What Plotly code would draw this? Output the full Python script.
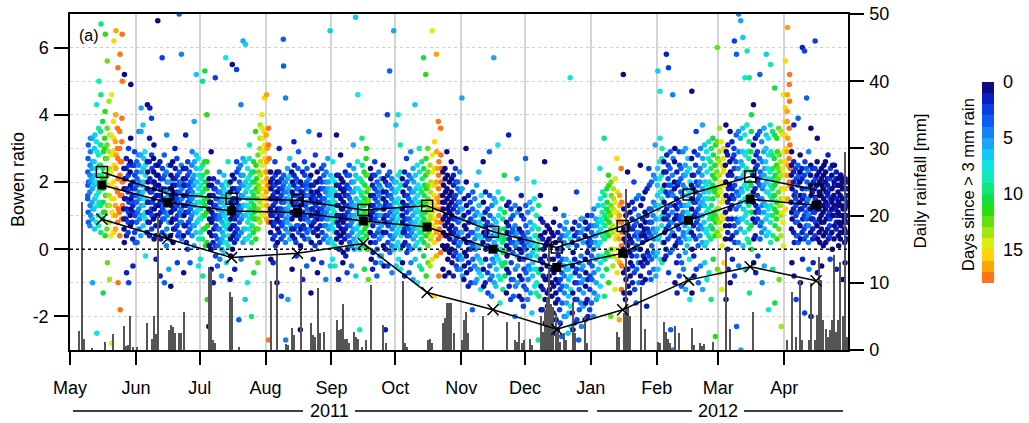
import pandas as pd
import plotly.graph_objects as go

# ---------------- data ----------------
start_date = "2011-05-01"
days_since_at_start = 3
rain_threshold = 3.0

# daily rainfall [mm], one value per day
rain_may = [0, 0, 0, 0, 2.9, 22.0, 1.6, 0, 0, 0, 0.3, 0, 0, 0, 0, 0, 1.2, 0, 0, 0, 2.4, 0, 0, 0, 0, 3.6, 0.6, 0.8, 5.0, 0.4, 0]
rain_jun = [0.4, 0, 0, 0, 0, 4.0, 0, 1.6, 5.0, 2.4, 20.0, 0, 0, 0, 0, 3.0, 3.7, 3.4, 2.6, 0, 2.5, 2.6, 5.7, 0, 0, 0, 0, 0, 0, 0]
rain_jul = [0, 0, 0, 0, 12.4, 11.9, 1.5, 1.0, 0, 0, 0, 0, 0, 0, 8.7, 7.9, 0, 0, 0.5, 0, 0, 0, 0, 0, 0, 0, 0, 0, 0, 0, 0]
rain_aug = [0, 0, 10.2, 0, 0, 15.1, 0, 0, 0, 0.9, 0.7, 0, 3.3, 2.2, 0, 0, 12.0, 0, 0, 0, 0, 4.0, 2.2, 2.0, 9.2, 2.5, 0, 2.7, 0, 0, 0]
rain_sep = [0, 0, 4.5, 3.0, 3.2, 6.9, 1.7, 1.6, 1.0, 0, 2.7, 2.0, 1.6, 0, 0.5, 0, 1.5, 0, 9.7, 0, 0, 0, 0, 0, 3.7, 1.0, 0, 0, 0, 0]
rain_oct = [0, 0, 0, 10.2, 1.0, 0.5, 0, 0, 0, 0, 0, 0, 0, 0, 0, 1.5, 1.7, 1.0, 0, 0, 0, 0, 4.0, 4.7, 7.0, 7.0, 7.0, 2.5, 0, 0, 0]
rain_nov = [1.5, 4.5, 5.7, 2.5, 0, 0, 0, 0, 0, 0, 5.0, 0, 0, 0, 0, 0, 0, 0, 0, 0, 0, 4.2, 0, 0, 0, 1.5, 1.2, 4.2, 1.0, 1.5]
rain_dec = [0, 0, 1.6, 0.7, 0, 0, 0, 5.0, 2.7, 6.0, 7.9, 15.4, 6.9, 6.4, 5.5, 3.0, 1.2, 0, 2.5, 1.5, 0, 0, 7.2, 2.5, 0, 0, 0, 0, 5.0, 1.0, 0]
rain_jan = [0, 0, 0, 0, 0, 0, 0, 0, 0, 0, 0, 0, 2.7, 2.0, 0, 5.5, 24.0, 6.4, 5.0, 0, 0, 0, 0, 9.4, 0, 3.2, 0, 0, 0, 0, 0]
rain_feb = [1.2, 1.0, 0, 4.2, 2.7, 1.7, 1.0, 0, 3.5, 0, 2.5, 0, 0, 0, 0, 0, 3.3, 0.7, 0, 0, 1.0, 0.6, 0.9, 0, 0, 0, 1.2, 0, 0]
rain_mar = [0, 0, 0, 15.0, 0, 3.2, 0, 0, 0, 0, 0, 0, 0, 0, 0, 0, 5.7, 0, 0, 0, 0, 0, 0, 0, 0, 0, 0, 0, 0, 0, 0]
rain_apr = [0, 1.5, 0, 8.7, 0, 2.0, 0, 10.4, 1.5, 0, 0, 1.5, 9.9, 0, 1.5, 5.2, 13.9, 10.4, 4.5, 3.2, 2.0, 3.0, 4.5, 14.1, 2.7, 4.5, 13.1, 5.0, 29.5, 2.0]

# daytime Bowen ratio values, one list per day
bowen_may = [[], [], [], [], [], [], [], [],
    [1.5, 2.3, 1.9, 2.7, 1.1, 3.1, 0.8, 2.0, 1.6], [1.7, 0.7, 2.5, 1.3, 2.0, 2.9, 3.3, 1.0, 2.2],
    [2.1, 1.4, 3.3, 0.9, 1.8, -1.0, 2.6, 1.2, 2.4], [1.2, 2.6, 1.9, 3.0, 0.6, 2.2, 1.5, 3.4, 2.0],
    [2.4, 1.6, 0.8, 4.3, 2.0, -2.5, 2.9, 1.3, 3.2], [1.0, 2.8, 3.6, 1.7, 2.2, 5.0, 1.4, 2.5, 0.7],
    [2.5, 1.3, 3.1, 0.5, 4.6, 6.7, 1.9, 2.2, 3.5], [1.8, 3.8, 0.9, 2.4, 1.4, -1.3, 2.9, 1.1, 2.1],
    [3.3, 1.1, 2.1, 4.1, 0.4, 6.4, 2.7, 1.6, 3.0], [2.7, 0.6, 1.6, 3.6, 5.6, -0.4, 2.2, 1.3, 3.1],
    [1.9, 4.4, 0.8, 2.9, 1.3, -0.9, 2.4, 3.4, 1.6], [0.4, 2.3, 3.4, 1.5, 4.6, -2.8, 2.8, 1.1, 1.9],
    [2.9, 1.0, 3.8, 0.5, 2.0, 6.2, 1.5, 2.5, 3.3], [1.3, 3.2, 0.6, 4.0, 2.4, 6.5, 1.8, 2.8, 1.0],
    [3.6, 1.7, 0.8, 2.7, 5.4, -1.0, 2.1, 1.2, 3.0], [1.1, 3.0, 0.4, 2.2, 5.8, -1.8, 1.6, 2.6, 3.5],
    [2.6, 0.9, 3.9, 1.6, 6.4, 5.0, 2.0, 1.3, 3.2], [1.2, 2.4, 0.6, 1.8, 0.2, 5.2, 1.5, 2.1, 0.9],
    [0.9, 2.1, 1.5, 2.7, 0.4, -0.7, 1.2, 1.8, 2.4], [1.7, 0.5, 2.2, 1.1, 3.0, -1.0, 1.4, 2.5, 0.8],
    [2.3, 1.0, 0.7, 1.9, 3.3, 4.9, 1.5, 1.2, 2.6], [0.8, 1.6, 2.5, 0.3, 1.3, -0.5, 2.0, 1.1, 1.8],
    [1.4, 2.9, 0.5, 2.2, 1.0, 1.8, 1.6, 0.2, 2.5]]
bowen_jun = [
    [1.4, 0.8, 2.6, 1.9, 0.2, 2.1, 1.1, 1.6, 2.3], [2.5, 1.2, 3.5, 0.6, 1.7, 1.5, 2.0, 0.9, 2.8],
    [0.4, 2.8, 1.6, 4.2, 1.0, 2.3, 1.3, 1.9, 3.5], [1.7, 3.7, 0.7, 2.4, 1.3, 2.0, 1.0, 2.7, 1.5],
    [2.9, 1.1, 0.9, 2.2, -0.2, 1.5, 1.8, 0.5, 2.5], [0.5, 1.8, 4.3, 1.4, 2.3, 1.1, 2.0, 0.8, 2.6],
    [2.6, 0.8, 3.3, 1.4, 4.2, 2.1, 1.1, 1.7, 0.4], [1.2, 3.9, 0.6, 1.7, 2.4, 1.0, 2.0, 1.4, 2.8],
    [0.9, 2.7, 1.5, 3.1, 0.3, 2.0, 1.2, 1.8, 2.3], [1.9, 0.7, 2.5, -0.3, 1.3, 1.6, 1.0, 2.2, 0.4],
    [6.8, 1.0, 2.2, 0.4, 1.6, 1.3, 1.9, 0.7, 2.5], [2.6, 1.4, -0.8, 0.8, 1.8, 2.1, 1.1, 0.3, 1.6],
    [1.5, 5.7, 0.5, 2.4, 1.2, 1.8, 0.9, 2.1, 1.4], [0.9, 2.8, -1.0, 1.5, 2.2, 1.1, 1.8, 0.4, 1.3],
    [2.3, 0.1, 1.7, 3.4, 0.6, 1.3, 2.0, 1.0, 1.5], [1.6, 2.5, 0.8, -0.6, 1.4, 2.0, 1.1, 0.3, 1.8],
    [0.4, 1.8, -1.1, 2.2, 1.1, 1.3, 0.8, 1.6, 2.5], [2.6, 0.9, 1.5, 0.2, 2.1, 1.7, 1.2, 0.6, 1.9],
    [1.2, 3.0, 0.6, 1.9, 2.4, 1.4, 0.9, 1.6, 2.1], [2.7, 0.7, 1.3, -0.4, 2.2, 1.0, 1.7, 0.4, 1.5],
    [0.5, 7.0, 1.9, 1.4, 2.3, 1.7, 1.1, 0.8, 2.0], [1.2, 2.5, 5.8, 0.3, 0.8, 2.0, 1.5, 1.8, 1.0],
    [2.1, 0.4, 1.3, -0.7, 1.6, 1.0, 1.9, 0.7, 2.4], [1.9, 0.7, 3.4, 1.1, 2.4, 1.3, 1.6, 0.2, 2.1],
    [0.0, 1.7, 2.2, 0.5, 1.4, 1.1, 1.9, 0.8, 2.6], [2.3, 1.5, 0.6, -0.4, 1.8, 1.2, 0.9, 2.0, 1.4],
    [1.0, 2.5, 0.4, 2.9, 1.7, 1.3, 0.7, 2.1, 1.5], [1.9, 0.1, 3.8, 1.3, 0.7, 2.6, 1.1, 1.6, 2.2],
    [0.5, 2.4, 5.2, 1.6, 1.1, 2.0, 0.8, 1.4, 2.8], [2.7, 1.2, -0.5, 0.3, 1.8, 1.4, 0.9, 2.2, 1.6]]
bowen_jul = [
    [1.6, -0.3, 2.4, 0.5, 1.2, 1.9, 0.9, 2.1, 1.4], [0.3, 5.0, 1.7, -0.8, 2.2, 1.0, 1.4, 0.6, 2.5],
    [2.6, 1.5, 5.3, 0.6, 1.3, 2.0, 0.1, 1.8, 1.0], [1.1, 4.0, 0.2, 2.3, -1.5, 1.8, 0.7, 1.5, 2.6],
    [-2.3, 1.2, 2.1, 0.1, 1.6, 0.9, 0.5, 1.4, 1.9], [1.4, 0.0, 2.9, -0.6, 0.8, 1.9, 0.4, 1.1, 1.6],
    [0.2, 1.6, -1.0, 2.1, 1.0, 1.3, 0.6, 1.8, 0.9], [1.8, 5.1, 0.4, -0.2, 1.3, 0.7, 1.0, 1.5, 0.1],
    [0.9, -0.5, 2.0, 1.5, 0.1, 1.2, 0.6, 1.7, 0.3], [2.3, 0.6, 1.2, -0.3, 1.7, 0.9, 0.2, 1.4, 1.0],
    [-0.8, 1.4, 0.0, 1.9, 0.8, 1.1, 0.5, 1.6, 0.3], [1.8, 0.4, 2.2, -0.1, 0.7, 1.3, 1.0, 0.2, 1.5],
    [5.7, 1.5, 0.2, 2.0, -0.4, 0.9, 1.2, 0.6, 1.7], [1.1, 2.6, 0.1, 1.9, 0.8, 1.4, 0.4, 1.6, 0.7],
    [-0.9, 0.6, 1.7, 0.3, 1.2, -0.2, 0.9, 1.4, 2.0], [1.3, 5.5, 0.0, 1.8, 0.7, 1.0, 0.4, 1.5, 2.2],
    [2.1, 0.2, 1.5, -0.6, 0.9, 1.2, 0.5, 1.8, 0.7], [1.4, 5.35, 0.3, 2.3, 1.0, 1.7, 0.6, 1.2, 2.6],
    [0.4, 2.4, -2.1, 1.8, 1.1, 1.5, 0.8, 2.0, 1.3], [2.5, 1.2, 4.3, -0.3, 0.5, 1.9, 0.9, 1.6, 2.2],
    [1.6, 0.2, 6.2, 2.2, 1.0, 1.3, 0.6, 1.9, 2.7], [0.6, 2.6, -1.5, 1.3, 6.1, 2.0, 1.0, 1.7, 0.3],
    [1.8, 0.3, 1.5, -1.0, 2.4, 1.1, 0.8, 2.1, 1.3], [2.7, 0.9, 3.1, 1.2, 0.4, 1.9, 1.5, 2.2, 0.6],
    [1.4, -2.0, 2.3, 0.2, 1.0, 1.7, 0.7, 2.0, 1.2], [0.5, 2.6, 1.6, -0.7, 1.3, 2.0, 0.9, 1.1, 2.3],
    [3.5, 1.2, 0.3, 2.5, 1.8, 0.9, 1.5, 2.1, 0.6], [1.5, -0.4, 2.8, 0.6, 1.9, 1.2, 2.3, 0.9, 1.7],
    [3.0, 1.4, 0.8, 3.7, 2.2, 1.8, 2.6, 1.1, 3.3], [2.0, 4.0, 1.0, 3.3, 2.5, 1.6, 2.9, 1.3, 3.6],
    [1.1, 3.5, 2.3, 4.5, 1.8, 2.7, 3.1, 1.5, 2.0]]
bowen_aug = [
    [3.4, 1.7, 4.6, 0.9, 2.6, 2.1, 3.0, 1.3, 2.3], [1.9, 3.1, -2.7, 0.8, 2.3, 1.5, 2.7, 1.1, 3.6],
    [1.2, 0.5, 2.3, -0.3, 1.8, 1.0, 1.5, 0.8, 2.0], [2.1, 1.0, 0.3, 1.6, -0.4, 1.3, 0.7, 1.9, 1.1],
    [0.4, 1.7, 2.6, 0.8, 1.1, 2.2, 1.4, 0.1, 1.9], [1.5, -1.0, 0.9, 2.0, 0.2, 1.2, 1.7, 0.6, 2.3],
    [2.3, 0.5, 3.0, 1.2, 1.8, 1.0, 1.5, 0.8, 2.0], [0.3, 1.6, -1.4, 2.1, 1.0, 1.4, 0.7, 1.8, 1.2],
    [1.1, 6.25, 0.4, 5.45, 2.2, 1.7, 1.4, 0.8, 1.9], [2.0, 0.2, 4.5, -2.7, 1.5, 0.9, 1.2, 1.7, 0.6],
    [0.8, 2.4, 1.2, -1.5, 0.5, 1.8, 1.0, 1.5, 2.1], [1.3, 2.7, 0.3, 1.6, 2.2, 1.0, 0.7, 1.9, 1.4],
    [2.3, 0.6, 1.1, -0.6, 1.7, 0.4, 1.4, 2.0, 0.9], [1.9, 3.2, 0.6, 2.5, 1.3, 1.0, 1.6, 0.3, 2.2],
    [0.2, 1.4, 2.1, -0.2, 1.0, 1.6, 0.7, 1.8, 1.2], [2.4, 0.7, 1.8, 2.9, 0.5, 1.2, 1.5, 1.0, 2.0],
    [1.3, -2.4, 0.1, 2.0, 0.9, 1.5, 0.6, 1.7, 1.1], [0.4, 1.7, 2.3, -0.9, 1.1, 1.0, 1.4, 0.7, 1.9],
    [2.6, 1.0, 0.6, 2.2, 0.3, 1.6, 1.3, 1.9, 0.9], [1.8, -0.5, 1.4, 2.4, 0.5, 1.2, 0.9, 1.6, 2.0],
    [0.3, 3.5, 1.6, 0.8, 2.1, 1.1, 1.4, 0.6, 1.8], [2.2, -1.3, 1.0, 1.5, 0.2, 1.7, 0.7, 1.2, 1.9],
    [1.2, 2.5, -0.3, 1.9, 0.5, 1.4, 1.0, 0.8, 1.6], [0.1, 1.5, 2.8, 0.9, 2.0, 1.3, 1.7, 0.6, 1.1],
    [2.3, 0.6, -0.7, 1.7, 1.1, 0.4, 1.4, 0.9, 2.0], [1.0, 3.4, 1.6, 0.2, 2.1, 1.4, 0.7, 1.8, 1.2],
    [2.4, 0.9, -0.4, 1.2, 1.8, 0.5, 1.5, 1.0, 2.0], [0.3, 2.5, 1.3, 2.2, 1.0, 1.5, 0.7, 1.8, 1.1],
    [1.7, -0.9, 0.4, 2.3, 1.1, 0.7, 1.4, 0.9, 2.0], [2.7, 1.2, 0.2, 1.6, 2.0, 0.9, 1.4, 0.6, 1.8],
    [0.3, 6.5, 1.7, -0.5, 2.2, 1.0, 1.3, 0.7, 1.6]]
bowen_sep = [
    [2.1, 0.2, 1.5, -0.3, 0.9, 2.6, 1.2, 0.6, 1.8], [0.8, 1.1, 2.0, -0.5, 0.1, 1.4, 0.5, 1.7, 0.9],
    [1.6, 3.4, 0.3, 2.2, 0.5, 1.0, 1.3, 0.8, 1.9], [-0.9, 1.3, 0.7, 1.9, 0.0, 1.0, 0.4, 1.6, 2.2],
    [2.8, 0.4, 1.5, 0.9, 2.1, 0.2, 1.2, 0.6, 1.8], [1.2, -0.4, 2.0, 0.8, -0.1, 1.4, 0.5, 1.7, 1.0],
    [0.3, 1.8, 1.0, 2.3, 0.6, 1.6, 1.3, -0.2, 0.9], [1.9, -0.7, 1.3, 0.7, 0.0, 1.1, 0.4, 1.6, 2.2],
    [0.4, 2.5, 0.9, 2.2, 1.5, 0.2, 1.2, 0.7, 1.8], [1.4, 0.1, -0.5, 2.0, 0.8, 1.3, 0.5, 1.7, 1.0],
    [3.1, 0.6, 1.7, 2.4, 0.3, 1.0, 1.3, 0.0, 2.0], [0.9, 6.9, 2.2, -0.8, 0.2, 1.5, 1.2, 0.6, 1.8],
    [2.6, 0.4, 4.6, 1.1, 1.8, 0.7, 1.4, 0.1, 2.1], [-2.4, 1.2, 0.0, 2.1, 0.8, 1.4, 0.5, 1.7, 1.0],
    [1.6, 3.3, 0.5, 2.5, 0.3, 1.0, 1.3, 0.8, 2.0], [0.1, 2.3, 1.3, -0.6, 0.9, 1.5, 0.6, 1.9, 1.1],
    [2.7, 0.7, 3.0, 1.1, 0.4, 1.7, 1.4, 0.0, 2.2], [1.4, -0.9, 2.2, 0.0, 0.8, 1.5, 1.1, 0.5, 1.8],
    [0.5, 2.4, 0.2, 1.6, 2.1, 0.9, 1.3, -0.3, 1.0], [1.9, -0.6, 1.1, 0.7, -0.1, 1.3, 0.4, 1.6, 2.2],
    [0.4, 2.6, 0.9, 2.2, 1.5, 0.2, 1.2, -0.4, 1.8], [1.2, -0.8, 2.0, 0.0, 0.8, 1.4, 0.5, 1.7, 1.0],
    [2.3, 0.6, 1.6, 0.3, 1.9, 1.0, 1.3, -0.2, 0.8], [-0.4, 1.0, 1.8, 0.7, -0.2, 1.2, 0.4, 1.5, 2.1],
    [0.5, 2.5, 1.5, 0.1, 2.1, 0.9, 1.2, -0.5, 1.7], [1.3, -2.4, 0.8, 2.0, 0.0, 1.4, 0.5, 1.7, 1.0],
    [4.0, 1.0, 2.2, -0.5, 0.2, 1.6, 0.7, 1.3, 1.9], [1.9, 5.3, 0.8, -0.1, 1.1, 1.3, 0.4, 1.6, 2.3],
    [0.1, 1.5, 2.1, -0.7, 0.6, 0.9, 1.2, 0.3, 1.8], [6.5, 1.2, 0.0, 2.0, 0.7, 1.4, 0.4, 1.7, 1.0]]
bowen_oct = [
    [3.7, 0.8, -0.5, 2.0, 1.4, 0.1, 1.1, 0.5, 1.7], [0.2, 4.0, 1.5, 2.2, -0.3, 0.9, 1.2, 0.6, 1.8],
    [1.3, 3.1, 0.0, -0.6, 1.9, 0.7, 1.0, 0.4, 2.3], [2.1, 1.0, -0.4, 0.8, 1.4, 0.1, 1.7, 0.5, 1.2],
    [0.5, 2.3, -0.8, 1.6, 0.9, 0.2, 1.3, 1.9, 0.6], [2.7, 1.1, 0.7, -0.1, 2.0, 1.3, 0.4, 1.6, 0.9],
    [0.1, 1.5, 2.2, -0.7, 0.4, 0.9, 1.2, 1.8, 0.6], [2.9, 0.8, 1.2, 0.0, 2.1, 1.4, 0.5, 1.7, -0.4],
    [1.0, -0.9, 2.4, 0.3, 1.7, 0.6, 1.3, 2.0, 0.8], [4.3, 1.5, 0.1, 2.2, 0.8, 1.1, 0.4, 1.8, -0.3],
    [1.2, 2.5, -1.0, 0.9, 0.2, 1.6, 0.6, 1.9, 1.4], [3.0, 0.5, 2.3, 0.0, 1.4, 0.7, 1.1, 1.8, -0.5],
    [0.3, 1.7, -0.6, 2.6, 1.0, 0.8, 1.4, 2.1, 0.5], [5.7, 1.3, 2.4, 0.2, 0.9, 1.6, 0.6, 1.9, -0.2],
    [1.1, 5.2, 0.4, 2.7, -0.8, 1.8, 1.4, 0.7, 2.2], [3.0, 0.1, 1.5, 2.3, 0.8, 1.2, 1.9, 0.5, -0.4],
    [0.6, 2.5, -0.5, 1.7, 1.0, 0.3, 1.4, 2.0, 0.9], [1.4, 6.5, 2.8, 0.4, 1.9, 1.1, 0.7, 2.3, -0.3],
    [-1.4, 1.6, 0.2, 3.2, 0.9, 2.4, 1.3, 0.6, 1.9], [2.0, 5.8, 0.5, 2.9, 1.2, 1.5, 0.8, 2.4, -0.2],
    [3.8, 0.3, 1.8, -0.8, 2.6, 1.0, 1.4, 0.6, 2.2], [1.6, 3.6, 0.4, 2.8, 1.2, 2.0, 0.8, 2.4, -0.1],
    [0.1, 1.6, 2.3, -0.6, 0.9, 1.2, 0.5, 1.9, 1.4], [1.4, -0.8, 0.7, 2.1, 0.0, 1.0, 1.7, 0.4, 2.4],
    [2.9, 0.4, 1.5, 0.1, 2.2, 0.8, 1.2, -0.3, 1.8], [-0.7, 1.3, 0.6, 2.0, -0.1, 1.1, 0.3, 1.6, 0.9],
    [0.5, 2.6, 1.4, 0.0, 2.1, 0.7, 1.0, -0.4, 1.7], [1.2, -0.8, 1.9, -0.2, 0.5, 0.9, 1.5, 0.2, 2.2],
    [2.4, 0.6, 1.3, -0.1, 2.0, 0.3, 0.9, -0.5, 1.6], [-0.6, 1.1, 0.4, 1.8, -0.3, 0.8, 1.4, 0.1, 2.0],
    [0.5, 2.3, -0.2, 1.7, 1.2, 0.2, 0.9, -0.6, 1.4]]
bowen_nov = [
    [0.5, 4.5, -0.3, 1.8, 1.2, -0.8, 0.9], [-0.9, 1.0, 0.3, 1.5, -0.5, 0.7, -0.1],
    [3.0, 0.6, 2.0, -0.2, 1.3, -0.7, 0.2], [0.4, -1.1, 1.6, 1.1, -0.4, 0.0, 0.8],
    [1.4, 0.2, -0.6, 0.9, 0.0, -1.0, 0.5], [-1.8, 1.2, 0.5, 1.7, -0.3, 0.1, 0.8],
    [0.8, -0.5, 1.5, 0.3, 1.0, -1.0, 0.0], [1.9, 0.4, -0.9, 1.1, -0.2, 0.6, -0.6],
    [2.3, 0.1, 1.3, -0.7, 0.8, -0.3, 0.4], [-1.2, 1.0, 0.3, 1.6, -0.4, 0.7, -0.8],
    [0.2, 2.6, -0.6, 1.4, 0.9, -1.1, 0.5], [1.1, -1.0, 0.4, 1.7, -0.3, 0.0, 0.7],
    [0.5, 0.8, -0.7, 1.2, 0.1, -1.3, 0.3], [2.9, 0.3, 1.6, -0.5, 1.0, -0.9, 0.0],
    [-1.4, 0.7, 0.0, 1.3, -0.8, 0.4, -0.3], [0.9, 5.7, -0.4, 1.5, 0.2, -1.0, 0.6],
    [1.4, -1.1, 0.1, 0.8, -0.6, 0.4, -0.2], [3.1, 0.3, 1.7, -0.3, 1.0, -0.8, 0.5],
    [-1.6, 0.6, 1.2, 0.0, -0.9, 0.3, -0.4], [0.4, 1.5, -0.5, 0.2, 0.9, -1.2, -0.1],
    [2.2, -0.1, 1.1, 0.6, -0.8, 0.3, -0.4], [-1.3, 0.8, 0.1, 1.3, -0.6, -0.2, 0.5],
    [0.7, 3.4, -0.7, 1.4, 0.0, -1.1, 0.3], [-1.5, 0.9, 0.2, 1.2, -0.4, -0.9, 0.5],
    [0.6, -0.1, 1.0, -0.9, 0.5, -1.4, 0.2], [-2.0, 0.7, 1.3, 0.1, -0.6, -1.1, 0.4],
    [2.1, -0.2, 0.5, 1.1, -1.0, -0.5, 0.2], [-1.4, 0.6, 0.0, 1.2, -0.8, -0.3, 0.3],
    [1.6, -0.1, 1.0, 0.5, -0.9, -1.5, 0.2], [-1.7, 0.4, -0.3, 0.9, -1.1, -0.6, 0.1]]
bowen_dec = [
    [2.7, 0.0, 1.3, 0.7, -0.7, -1.2, 0.3], [-1.5, 0.5, 1.1, -0.2, -0.9, 0.2, -0.5],
    [0.3, 1.4, -0.6, 0.8, 0.1, -1.3, -0.2], [-1.9, 0.6, 1.2, -0.1, -0.8, 0.2, -0.4],
    [2.0, 0.7, 1.5, 0.0, -0.6, -1.1, 0.4], [-1.3, 0.4, 1.0, -0.2, -1.0, 0.1, -0.6],
    [-2.7, 0.6, 1.3, 0.0, -0.7, -1.4, 0.3], [1.6, -0.3, 0.4, 0.9, -1.1, -1.8, -0.6],
    [-1.8, 0.3, -0.4, 0.8, -1.2, -0.8, 0.0], [2.6, -0.2, 0.5, -1.5, -0.9, -2.2, 0.1],
    [-2.1, 0.2, -0.5, 0.7, -1.3, -0.9, -1.7], [-1.7, 0.3, -0.8, 0.6, -1.2, -2.4, -0.3],
    [-2.3, 0.1, -0.6, -1.9, -1.0, 0.5, -1.4], [-1.9, 0.4, -0.3, 0.8, -1.1, -2.5, -0.7],
    [1.2, -0.5, 0.2, -1.6, -1.3, -0.9, -2.1], [-2.4, 0.0, -0.6, 0.5, -1.5, -1.0, -0.2],
    [-1.8, 0.3, -0.4, 0.7, -1.2, -2.2, -0.9], [-2.6, 0.0, -0.7, 0.4, -1.6, -1.1, -0.3],
    [1.0, -0.5, 0.2, -2.0, -1.3, -0.8, 0.6], [-2.0, 0.4, -0.3, 0.8, -1.1, -1.6, -0.6],
    [-2.5, 0.1, -0.6, 0.5, -1.4, -0.9, -1.9], [5.1, -0.4, 0.3, -1.7, -1.2, -0.8, -2.3],
    [-1.9, 0.2, -0.5, 0.6, -1.3, -2.4, -0.1], [-2.2, 0.4, -0.3, 0.8, -1.0, -1.5, -0.7],
    [1.7, -0.6, 0.1, -2.1, -1.5, -1.0, 0.5], [-2.7, 0.3, -0.4, 0.7, -1.2, -1.8, -0.8],
    [-1.6, 0.5, -0.2, 0.9, -1.0, -2.3, -0.6], [0.9, -0.5, 0.2, -1.7, -1.3, -0.9, 0.6],
    [-2.1, 0.4, -0.3, 0.8, -1.1, -1.6, -0.7], [-1.5, 0.6, -0.1, 1.0, -0.9, -2.0, 0.2],
    [0.1, -0.4, 0.3, -1.8, -1.2, 0.7, -0.8]]
bowen_jan = [
    [-1.6, -0.2, 0.5, 1.0, -0.9, 0.2, -0.5], [-2.0, 0.0, 0.7, 1.2, -0.7, -1.3, 0.4],
    [0.2, -0.3, 0.4, 0.9, -1.0, -1.5, 0.7], [-1.4, 0.1, 0.8, 1.3, -0.6, -0.2, 0.5],
    [2.4, 0.2, -1.1, 0.9, 1.5, -0.4, 0.6], [0.8, 1.1, -0.8, 0.4, 1.7, -0.2, 1.3],
    [3.3, 0.3, -1.4, 1.0, 1.6, -0.3, 0.7], [0.9, 0.5, -0.6, 1.2, 1.8, -0.1, 1.4],
    [2.2, 0.4, -1.0, 1.1, 1.9, -0.2, 0.8], [1.0, 0.6, -2.0, 1.3, 2.0, 0.0, 1.6],
    [0.7, 0.5, -0.5, 1.2, 1.8, -0.2, 1.5], [1.1, 0.6, -1.2, 1.4, 2.1, 0.0, 0.3],
    [2.7, 0.4, -0.7, 1.1, 1.7, -0.3, 0.9], [0.8, 0.3, -2.1, 1.0, 1.6, -0.4, 1.3],
    [2.4, 0.1, -1.2, 0.8, 1.4, -0.5, 0.5], [5.2, 0.0, -0.7, 0.6, 1.2, -1.3, 0.3],
    [-1.5, -0.2, 0.5, 1.0, -0.9, 0.2, -0.6], [2.3, 0.1, -0.6, 0.7, 1.3, -1.1, 0.4],
    [-1.3, -0.1, 0.6, 1.1, -0.8, 0.3, -0.4], [-0.2, 0.2, 0.9, 1.4, -0.5, -1.0, 0.6],
    [2.0, 0.0, -0.7, 0.7, 1.2, -1.2, 0.4], [-1.6, 0.1, 0.8, 1.5, -0.6, -0.2, 0.5],
    [0.5, 0.3, -0.4, 1.0, 1.6, -1.0, 0.0], [2.5, 0.0, -0.8, 0.7, 1.3, -0.4, 0.4],
    [-1.0, 0.2, 0.9, 1.5, -0.5, 0.5, -0.2], [0.6, 0.4, -0.3, 1.1, 1.7, -0.9, 0.8],
    [-1.7, 0.3, 1.0, 1.8, -0.4, 0.6, -0.1], [2.4, 0.5, -0.2, 1.2, 1.9, -0.7, 0.8],
    [-0.9, 0.4, 1.2, 2.0, -0.3, 0.8, 0.1], [1.0, 0.6, -0.1, 1.4, 2.2, -0.6, 0.3],
    [3.1, 0.5, -0.2, 1.3, 2.1, -0.8, 0.9]]
bowen_feb = [
    [0.6, 1.9, -0.1, 2.4, 5.3, -0.6, 1.2, 0.3, 1.6], [1.3, 0.4, 2.1, 0.9, 4.7, 3.3, 1.7, -0.3, 2.6],
    [2.2, 0.7, 1.5, -0.4, 3.0, 1.0, 0.2, 1.8, 2.7], [0.9, 2.6, 0.2, 1.4, 1.1, -0.3, 1.9, 0.5, 2.3],
    [1.7, -0.2, 2.3, 0.6, 5.8, 0.9, 1.2, 2.8, 0.0], [0.3, 1.6, 2.5, 1.0, 5.4, -0.7, 0.7, 1.9, 2.1],
    [2.4, 0.8, -0.1, 1.3, 1.9, -2.4, 0.4, 1.7, 2.9], [1.1, 2.2, 0.5, 0.0, 4.6, -3.0, 1.6, 2.7, 0.8],
    [0.4, 1.8, 2.6, 0.9, 3.0, -1.0, 1.3, 0.1, 2.0], [1.5, -0.4, 0.7, 2.3, 1.2, -1.3, 0.2, 1.9, 1.0],
    [2.0, 0.6, 1.4, -0.2, 2.9, -0.8, 0.9, 2.5, 0.3], [0.2, 1.7, 2.4, 0.8, 1.0, -1.1, 1.3, -0.4, 2.1],
    [1.6, 2.9, 0.4, 1.1, 0.5, -0.6, 2.2, 0.9, 1.9], [0.7, 1.3, 2.5, -0.1, 3.0, -1.2, 1.8, 0.3, 2.2],
    [2.3, 0.1, 1.6, 0.9, 1.3, -0.9, 2.7, 0.5, 1.1], [1.0, 2.4, 0.3, 1.7, 0.6, -1.5, 2.0, 1.4, -0.3],
    [0.5, 1.9, 2.7, 1.2, 4.7, -1.3, 0.0, 2.2, 1.5], [1.8, 0.7, 2.2, -0.2, 1.4, -0.8, 2.9, 1.0, 0.4],
    [2.5, 1.1, 0.3, 1.7, 3.5, -0.6, 2.0, 0.8, 1.4], [0.9, 2.8, 1.5, 0.1, 1.2, -1.0, 2.3, 0.6, 1.9],
    [1.6, 0.4, 2.4, 1.0, 0.7, -0.5, 3.0, 1.3, 2.0], [2.2, 1.0, 0.2, 1.8, 3.7, -1.2, 2.7, 0.6, 1.4],
    [0.8, 2.5, 1.3, 3.1, 1.5, -0.4, 0.1, 2.0, 1.7], [1.9, 0.5, 2.9, 1.1, 0.6, -0.9, 2.3, 1.5, 0.2],
    [1.2, 2.7, 0.4, 3.2, 1.7, -0.7, 2.0, 0.9, 1.5], [2.6, 1.0, 1.8, 0.3, 2.4, -1.5, 3.0, 1.3, 0.7],
    [0.6, 2.2, 3.3, 1.5, 0.9, -0.3, 2.8, 1.1, 1.9], [1.7, 0.4, 2.5, 1.0, 1.8, -2.6, 3.1, 0.8, 2.1],
    [2.3, 1.2, 0.5, 3.2, 6.0, -0.6, 1.6, 2.7, 0.9]]
bowen_mar = [
    [1.2, 2.6, 0.4, 2.9, 3.6, -0.7, 1.8, 0.8, 2.2], [2.0, 0.6, 3.2, 1.4, 1.0, -1.2, 2.5, 0.1, 1.7],
    [0.9, 2.3, 1.5, 3.0, 2.4, -0.4, 0.3, 1.9, 2.7], [2.5, 1.1, 0.3, 2.0, 3.7, -1.5, 1.6, 2.9, 0.7],
    [1.4, 2.8, 0.5, 3.1, 0.9, -0.6, 2.2, 1.8, 0.0], [0.7, 1.9, 2.6, 1.2, 3.5, -1.0, 2.3, 0.3, 1.5],
    [2.2, 0.9, 3.2, 1.6, 1.8, -0.3, 0.4, 2.7, 1.3], [1.5, 3.0, 0.7, 2.4, 6.2, -0.8, 1.9, 0.2, 2.8],
    [2.6, 1.2, 3.4, 0.5, 5.8, -2.3, 1.7, 2.1, 0.9], [0.8, 2.4, 1.6, 3.5, 7.0, -0.5, 2.9, 1.3, 0.2],
    [2.1, 0.6, 3.3, 1.4, 6.8, -3.0, 2.6, 1.8, 0.9], [1.7, 2.9, 0.9, 3.6, 6.3, 0.1, 2.2, 1.2, 2.5],
    [0.5, 2.3, 1.5, 3.4, 5.1, -0.6, 2.8, 1.0, 1.9], [2.4, 1.1, 3.7, 0.8, 5.9, 0.3, 1.8, 2.9, 1.4],
    [1.3, 2.7, 0.6, 3.2, 5.1, -1.3, 2.0, 1.6, 0.2], [2.9, 1.5, 0.7, 3.5, 4.0, 0.0, 2.3, 1.1, 1.9],
    [0.9, 2.2, 1.4, 3.1, 4.3, -0.4, 2.6, 0.3, 1.7], [1.8, 0.8, 3.3, 2.4, 1.1, -0.7, 1.3, 2.8, 0.4],
    [2.5, 1.6, 0.9, 3.4, 2.0, -0.2, 1.2, 2.1, 2.9], [1.1, 2.7, 1.9, 3.5, 5.2, 0.3, 0.7, 2.3, 1.5],
    [2.2, 0.8, 3.2, 1.5, 1.3, -1.0, 2.6, 1.8, 0.5], [1.4, 2.9, 1.1, 3.6, 2.2, -0.5, 0.6, 2.4, 1.9],
    [2.6, 1.3, 0.9, 3.4, 5.8, 0.4, 2.0, 1.7, 3.0], [1.0, 2.4, 1.7, 3.3, 1.2, -1.8, 2.8, 0.5, 2.1],
    [2.3, 1.6, 3.7, 0.8, 5.5, 0.2, 1.3, 2.9, 1.9], [1.5, 2.8, 1.0, 3.5, 2.1, -0.6, 2.4, 0.4, 1.8],
    [2.7, 1.2, 3.4, 1.9, 4.8, -1.6, 0.7, 2.2, 1.6], [0.9, 2.5, 1.4, 3.3, 1.4, 0.3, 2.0, 2.9, 1.1],
    [2.1, 1.7, 3.6, 0.6, 2.3, -0.9, 2.8, 1.3, 2.4], [1.3, 2.6, 1.0, 3.5, 1.5, -2.3, 2.2, 1.8, 0.4],
    [2.4, 1.1, 3.4, 1.8, 4.6, 0.1, 2.9, 1.5, 0.8]]
bowen_apr = [
    [2.6, 3.4, 1.8, 4.2, 5.6, 1.2, 3.0, 2.2, 3.8], [2.9, 3.8, 2.2, 4.6, 6.6, 1.5, 3.3, 2.5, 4.1],
    [2.7, 3.6, 2.0, 4.4, 5.2, 1.9, 3.1, 2.4, 4.9], [1.4, 2.2, 0.6, 2.9, 1.1, -0.4, 1.8, 0.9, 2.5],
    [1.2, 2.0, 0.5, 2.6, 3.7, -0.8, 1.6, 0.2, 2.3], [1.7, 0.8, 2.4, 1.3, 1.0, -1.5, 2.1, 0.4, 1.5],
    [1.1, 1.9, 0.4, 2.5, 3.9, 0.2, 1.4, 2.2, 0.8], [2.0, 1.4, 0.7, 2.8, 1.6, -1.0, 1.2, 0.3, 2.3],
    [1.2, 2.4, 0.5, 1.8, 6.0, -0.3, 1.5, 0.9, 2.1], [1.6, 0.6, 2.2, 1.0, 5.9, -1.9, 1.3, 2.6, 0.3],
    [1.1, 1.8, 0.4, 2.4, 4.5, 0.9, 1.4, 2.0, 0.7], [2.3, 1.5, 0.7, 2.9, 1.2, -0.6, 1.0, 1.8, 0.2],
    [1.2, 1.9, 0.5, 2.5, 3.6, -2.0, 1.6, 0.9, 2.2], [1.7, 2.4, 0.6, 1.3, 0.9, -0.4, 2.0, 1.1, 0.3],
    [1.1, 1.8, 0.4, 2.4, 6.2, 1.5, 2.1, 0.8, 1.3], [1.9, 1.4, 0.7, 2.6, 3.3, -0.7, 1.2, 0.3, 2.2],
    [1.2, 2.3, 0.5, 1.7, 0.9, 1.6, 2.0, 0.2, 1.4], [1.6, 1.0, 2.1, 0.6, 2.4, -0.5, 1.3, 1.9, 0.8],
    [1.1, 1.8, 0.4, 2.2, 1.5, 0.8, 2.5, 1.3, 0.1], [2.0, 1.2, 0.5, 2.3, 0.2, 1.4, 1.7, 0.9, 2.6],
    [1.3, 2.1, 0.6, 1.6, 1.7, 2.8, 1.0, 0.3, 1.9], [1.8, 1.1, 0.4, 2.1, 0.9, -0.3, 1.5, 2.4, 0.7],
    [1.2, 2.2, 0.5, 1.8, 1.5, 0.0, 1.0, 2.5, 1.4], [1.6, 1.0, 0.3, 2.0, 1.3, 2.5, 1.9, 0.7, 1.2],
    [1.2, 1.9, 0.6, 2.3, 0.8, -0.6, 1.5, 1.0, 2.1], [1.7, 1.1, 0.4, 2.1, 1.4, 0.1, 1.9, 0.8, 1.3],
    [1.0, 1.6, 0.3, 2.2, 0.7, 2.2, 1.3, 1.9, 0.5], [1.5, 1.8, 0.5, 2.1, 1.0, -0.9, 1.2, 0.8, 2.0],
    [0.9, 1.5, 0.2, 1.8, 1.2, -0.4, 2.1, 1.3, 0.6], [1.0, 1.6, 0.3, 2.0, 0.5, 1.3, 1.8, 0.8, 1.4]]

# monthly statistics of Bowen ratio (mid-month)
stat_dates = ["2011-05-16", "2011-06-16", "2011-07-16", "2011-08-16", "2011-09-16", "2011-10-16",
              "2011-11-16", "2011-12-16", "2012-01-16", "2012-02-16", "2012-03-16", "2012-04-16"]
bowen_upper = [2.30, 1.65, 1.50, 1.46, 1.17, 1.29, 0.52, 0.05, 0.69, 1.63, 2.16, 1.76]
bowen_median = [1.91, 1.39, 1.14, 1.09, 0.84, 0.66, 0.00, -0.54, -0.12, 0.86, 1.49, 1.31]
bowen_lower = [0.89, 0.32, -0.25, -0.12, 0.17, -1.29, -1.80, -2.38, -1.80, -0.92, -0.52, -0.94]

month_ticks = ["2011-05-01", "2011-06-01", "2011-07-01", "2011-08-01", "2011-09-01", "2011-10-01",
               "2011-11-01", "2011-12-01", "2012-01-01", "2012-02-01", "2012-03-01", "2012-04-01"]
month_labels = ["May", "Jun", "Jul", "Aug", "Sep", "Oct", "Nov", "Dec", "Jan", "Feb", "Mar", "Apr"]
year_labels = ["2011", "2012"]
bowen_ticks = [-2, 0, 2, 4, 6]
rain_ticks = [0, 10, 20, 30, 40, 50]
colorbar_ticks = [0, 5, 10, 15]

sample_hours = [7.0, 8.5, 10.0, 11.5, 13.0, 14.5, 16.0, 17.5, 9.25]
band_colors = ["#0b0b86", "#0a1fbf", "#0a3fe6", "#0a5ff0", "#1482f2", "#1aa5f5", "#14c8f5", "#10e4e4",
               "#10eab4", "#10e87c", "#10e044", "#2adc14", "#66e014", "#a2e614", "#dcee10", "#ffd60a",
               "#ffa50a", "#ff7418"]

# ---------------- derived ----------------
rain = (rain_may + rain_jun + rain_jul + rain_aug + rain_sep + rain_oct +
        rain_nov + rain_dec + rain_jan + rain_feb + rain_mar + rain_apr)
bowen_days = (bowen_may + bowen_jun + bowen_jul + bowen_aug + bowen_sep + bowen_oct +
              bowen_nov + bowen_dec + bowen_jan + bowen_feb + bowen_mar + bowen_apr)
assert len(rain) == 366, len(rain)
assert len(bowen_days) == 366, len(bowen_days)

dates = pd.date_range(start_date, periods=len(rain), freq="D")
nb = len(band_colors)

days_since = []
last = -days_since_at_start
for i, r in enumerate(rain):
    if r > rain_threshold:
        last = i
    days_since.append(i - last)

xs, ys, cs = [], [], []
for i, vals in enumerate(bowen_days):
    for j, v in enumerate(vals):
        xs.append(dates[i] + pd.Timedelta(hours=sample_hours[j]))
        ys.append(v)
        cs.append(-(min(days_since[i], nb - 1) + 0.5))

cscale = []
for k in range(nb):
    col = band_colors[nb - 1 - k]
    cscale.append([k / nb, col])
    cscale.append([(k + 1) / nb, col])

# plot area in window pixels: x 70..848, y 14..350
def px_x(p):
    return (p - 70) / 778

def px_y(p):
    return (350 - p) / 336

fig = go.Figure()

fig.add_trace(go.Scatter(
    x=xs, y=ys, mode="markers", yaxis="y", hoverinfo="skip",
    marker=dict(size=5.5, color=cs, colorscale=cscale, cmin=-nb, cmax=0, showscale=True, line=dict(width=0),
                colorbar=dict(x=px_x(981.5), xanchor="left", xpad=0, ypad=0,
                              y=px_y(182.5), yanchor="middle", len=201 / 336, lenmode="fraction",
                              thickness=12, outlinewidth=0,
                              tickvals=[-t for t in colorbar_ticks], ticktext=[str(t) for t in colorbar_ticks],
                              ticks="outside", ticklen=6, tickcolor="rgba(0,0,0,0)",
                              tickfont=dict(size=18))),
))

fig.add_trace(go.Bar(
    x=[d + pd.Timedelta(hours=12) for d in dates], y=rain, yaxis="y2", hoverinfo="skip",
    marker=dict(color="#555555", line=dict(width=0)), width=0.6 * 86400000,
))

line_style = dict(color="black", width=1.5)
fig.add_trace(go.Scatter(x=stat_dates, y=bowen_upper, yaxis="y3", mode="lines+markers", line=line_style,
                         marker=dict(symbol="square-open", size=11, color="black", line=dict(width=1.5, color="black"))))
fig.add_trace(go.Scatter(x=stat_dates, y=bowen_median, yaxis="y3", mode="lines+markers", line=line_style,
                         marker=dict(symbol="square", size=9, color="black")))
fig.add_trace(go.Scatter(x=stat_dates, y=bowen_lower, yaxis="y3", mode="lines+markers", line=line_style,
                         marker=dict(symbol="x-thin", size=11, color="black", line=dict(width=1.5, color="black"))))

grid_dash = "3px,3px"
fig.update_layout(
    width=1029, height=423,
    margin=dict(l=70, r=181, t=14, b=73, autoexpand=False),
    paper_bgcolor="white", plot_bgcolor="white",
    font=dict(family="Liberation Sans, Arial, sans-serif", size=18, color="black"),
    showlegend=False, hovermode=False, bargap=0,
    xaxis=dict(type="date", range=["2011-05-01", "2012-05-01"], tickvals=month_ticks, ticktext=month_labels,
               ticks="outside", ticklen=13, tickwidth=1.5, tickcolor="black",
               showline=True, linecolor="black", linewidth=1.5, mirror=True,
               showgrid=True, gridcolor="#d4d4d4", gridwidth=1.5, zeroline=False, ticklabelstandoff=8,
               ticklabeloverflow="allow"),
    yaxis=dict(range=[-3, 7], tickvals=bowen_ticks, ticktext=[str(t) for t in bowen_ticks],
               ticks="outside", ticklen=14, tickwidth=1.5, tickcolor="black",
               showline=True, linecolor="black", linewidth=1.5,
               showgrid=True, gridcolor="#cfcfcf", griddash=grid_dash, gridwidth=1, zeroline=False,
               minor=dict(dtick=1, tick0=0, showgrid=True, gridcolor="#cfcfcf", griddash=grid_dash, gridwidth=1, ticks=""),
               ticklabelstandoff=2, ticklabeloverflow="allow"),
    yaxis2=dict(overlaying="y", side="right", range=[0, 50], tickvals=rain_ticks,
                ticktext=[str(t) for t in rain_ticks],
                ticks="outside", ticklen=14, tickwidth=1.5, tickcolor="black",
                showline=True, linecolor="black", linewidth=1.5, showgrid=False, zeroline=False,
                ticklabelstandoff=2, ticklabeloverflow="allow"),
    yaxis3=dict(overlaying="y", range=[-3, 7], visible=False),
)

# dotted zero line
fig.add_shape(type="line", xref="paper", x0=0, x1=1, yref="y", y0=0, y1=0,
              line=dict(color="black", width=1.5, dash="dot"), layer="above")

def label(text, sx, sy, size, angle=0, xanchor="center"):
    fig.add_annotation(text=text, x=px_x(sx), y=px_y(sy), xref="paper", yref="paper",
                       xanchor=xanchor, yanchor="middle", textangle=angle, showarrow=False,
                       font=dict(size=size))

label("Bowen ratio", 18, 180, 18, angle=-90)
label("Daily rainfall [mm]", 920, 181.5, 17, angle=-90)
label("Days since > 3 mm rain", 968, 185, 16.5, angle=-90)
label("(a)", 77, 35, 16, xanchor="left")

year_y = px_y(411)
label(year_labels[0], 329, 411, 18)
label(year_labels[1], 718, 411, 18)
for a, b in [(73, 303), (355, 588), (597, 692), (744, 843)]:
    fig.add_shape(type="line", xref="paper", yref="paper", x0=px_x(a), x1=px_x(b), y0=year_y, y1=year_y,
                  line=dict(color="black", width=1.5))

# let the figure sit at the page origin (no default body margin); no mode bar
fig.write_html("out.html", config={"displayModeBar": False},
               post_script="document.body.style.margin='0';")
